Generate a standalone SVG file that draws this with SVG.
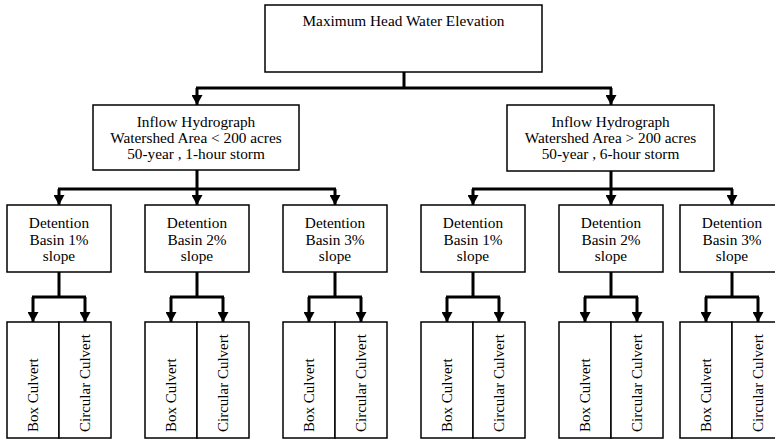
<svg xmlns="http://www.w3.org/2000/svg" width="775" height="441" viewBox="0 0 775 441">
<style>
.box{fill:#fff;stroke:#000;stroke-width:1.5}
.t{font-family:'Liberation Serif','Times New Roman','DejaVu Serif',serif;font-size:15.3px;fill:#000;text-anchor:middle}
.v{font-family:'Liberation Serif','Times New Roman','DejaVu Serif',serif;font-size:15px;fill:#000;text-anchor:start}
.c{fill:none;stroke:#000;stroke-width:3}
</style>
<defs>
<marker id="ah" markerUnits="userSpaceOnUse" markerWidth="11" markerHeight="11" refX="10" refY="5.5" orient="auto" viewBox="0 0 10 11">
<path d="M0,0 L10,5.5 L0,11 z" fill="#000"/>
</marker>
</defs>
<rect width="775" height="441" fill="#fff"/>
<g id="connectors">
<path class="c" d="M404,72 V88 M196,88 H612"/>
<path class="c" d="M197,88 V105" marker-end="url(#ah)"/>
<path class="c" d="M611,88 V105" marker-end="url(#ah)"/>
<path class="c" d="M197,170 V189 M58,189 H336"/>
<path class="c" d="M59,189 V205" marker-end="url(#ah)"/>
<path class="c" d="M197,189 V205" marker-end="url(#ah)"/>
<path class="c" d="M335,189 V205" marker-end="url(#ah)"/>
<path class="c" d="M611,171 V189 M472,189 H733"/>
<path class="c" d="M473,189 V205" marker-end="url(#ah)"/>
<path class="c" d="M611,189 V205" marker-end="url(#ah)"/>
<path class="c" d="M732,189 V205" marker-end="url(#ah)"/>
<path class="c" d="M59,272 V297 M32,297 H86"/>
<path class="c" d="M33,297 V322" marker-end="url(#ah)"/>
<path class="c" d="M85,297 V322" marker-end="url(#ah)"/>
<path class="c" d="M197,272 V297 M170,297 H224"/>
<path class="c" d="M171,297 V322" marker-end="url(#ah)"/>
<path class="c" d="M223,297 V322" marker-end="url(#ah)"/>
<path class="c" d="M335,272 V297 M308,297 H362"/>
<path class="c" d="M309,297 V322" marker-end="url(#ah)"/>
<path class="c" d="M361,297 V322" marker-end="url(#ah)"/>
<path class="c" d="M473,272 V297 M446,297 H500"/>
<path class="c" d="M447,297 V322" marker-end="url(#ah)"/>
<path class="c" d="M499,297 V322" marker-end="url(#ah)"/>
<path class="c" d="M611,272 V297 M584,297 H638"/>
<path class="c" d="M585,297 V322" marker-end="url(#ah)"/>
<path class="c" d="M637,297 V322" marker-end="url(#ah)"/>
<path class="c" d="M732,272 V297 M705,297 H759"/>
<path class="c" d="M706,297 V322" marker-end="url(#ah)"/>
<path class="c" d="M758,297 V322" marker-end="url(#ah)"/>
</g>
<g id="top">
<rect class="box" x="265" y="5" width="277" height="67"/>
<text class="t" x="403.5" y="26">Maximum Head Water Elevation</text>
</g>
<g id="inflow-left">
<rect class="box" x="93" y="105" width="206" height="65"/>
<text class="t" x="196" y="127">Inflow Hydrograph</text>
<text class="t" x="196" y="143">Watershed Area &lt; 200 acres</text>
<text class="t" x="196" y="159">50-year , 1-hour storm</text>
</g>
<g id="inflow-right">
<rect class="box" x="507" y="105" width="207" height="66"/>
<text class="t" x="610.5" y="127">Inflow Hydrograph</text>
<text class="t" x="610.5" y="143">Watershed Area &gt; 200 acres</text>
<text class="t" x="610.5" y="159">50-year , 6-hour storm</text>
</g>
<g id="det-l1">
<rect class="box" x="7" y="205" width="104" height="67"/>
<text class="t" x="59" y="228">Detention</text>
<text class="t" x="59" y="245">Basin 1%</text>
<text class="t" x="59" y="261">slope</text>
</g>
<g id="det-l2">
<rect class="box" x="145" y="205" width="104" height="67"/>
<text class="t" x="197" y="228">Detention</text>
<text class="t" x="197" y="245">Basin 2%</text>
<text class="t" x="197" y="261">slope</text>
</g>
<g id="det-l3">
<rect class="box" x="283" y="205" width="104" height="67"/>
<text class="t" x="335" y="228">Detention</text>
<text class="t" x="335" y="245">Basin 3%</text>
<text class="t" x="335" y="261">slope</text>
</g>
<g id="det-r1">
<rect class="box" x="421" y="205" width="104" height="67"/>
<text class="t" x="473" y="228">Detention</text>
<text class="t" x="473" y="245">Basin 1%</text>
<text class="t" x="473" y="261">slope</text>
</g>
<g id="det-r2">
<rect class="box" x="559" y="205" width="104" height="67"/>
<text class="t" x="611" y="228">Detention</text>
<text class="t" x="611" y="245">Basin 2%</text>
<text class="t" x="611" y="261">slope</text>
</g>
<g id="det-r3">
<rect class="box" x="680" y="205" width="104" height="67"/>
<text class="t" x="732" y="228">Detention</text>
<text class="t" x="732" y="245">Basin 3%</text>
<text class="t" x="732" y="261">slope</text>
</g>
<g id="culv-l1">
<rect class="box" x="7" y="322" width="52" height="116"/>
<rect class="box" x="59" y="322" width="52" height="116"/>
<text class="v" transform="translate(38,432) rotate(-90)">Box Culvert</text>
<text class="v" transform="translate(90,432) rotate(-90)">Circular Culvert</text>
</g>
<g id="culv-l2">
<rect class="box" x="145" y="322" width="52" height="116"/>
<rect class="box" x="197" y="322" width="52" height="116"/>
<text class="v" transform="translate(176,432) rotate(-90)">Box Culvert</text>
<text class="v" transform="translate(228,432) rotate(-90)">Circular Culvert</text>
</g>
<g id="culv-l3">
<rect class="box" x="283" y="322" width="52" height="116"/>
<rect class="box" x="335" y="322" width="52" height="116"/>
<text class="v" transform="translate(314,432) rotate(-90)">Box Culvert</text>
<text class="v" transform="translate(366,432) rotate(-90)">Circular Culvert</text>
</g>
<g id="culv-r1">
<rect class="box" x="421" y="322" width="52" height="116"/>
<rect class="box" x="473" y="322" width="52" height="116"/>
<text class="v" transform="translate(452,432) rotate(-90)">Box Culvert</text>
<text class="v" transform="translate(504,432) rotate(-90)">Circular Culvert</text>
</g>
<g id="culv-r2">
<rect class="box" x="559" y="322" width="52" height="116"/>
<rect class="box" x="611" y="322" width="52" height="116"/>
<text class="v" transform="translate(590,432) rotate(-90)">Box Culvert</text>
<text class="v" transform="translate(642,432) rotate(-90)">Circular Culvert</text>
</g>
<g id="culv-r3">
<rect class="box" x="680" y="322" width="52" height="116"/>
<rect class="box" x="732" y="322" width="52" height="116"/>
<text class="v" transform="translate(711,432) rotate(-90)">Box Culvert</text>
<text class="v" transform="translate(763,432) rotate(-90)">Circular Culvert</text>
</g>
</svg>
